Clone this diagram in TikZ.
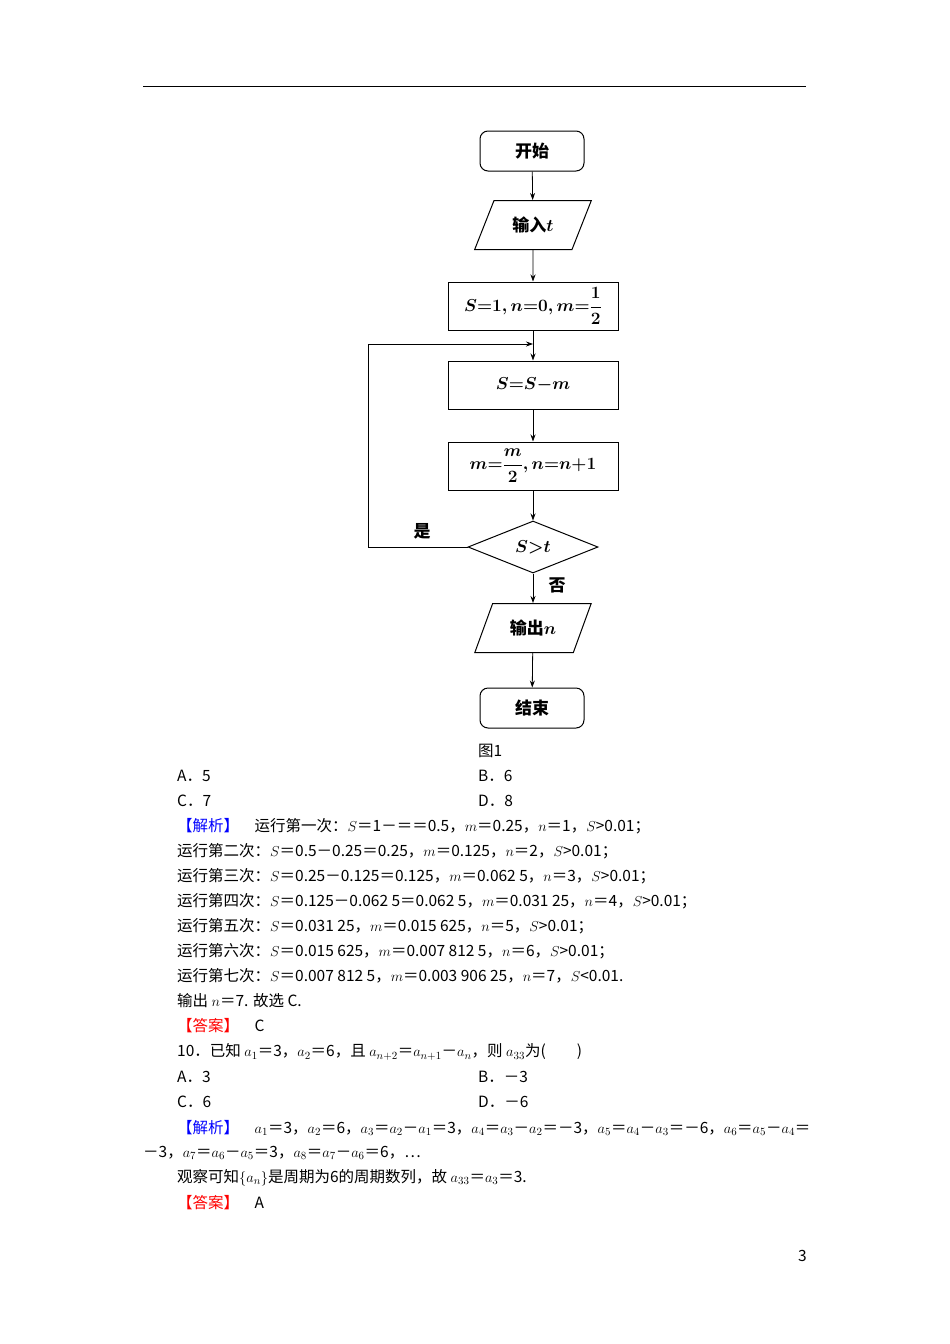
\documentclass[tikz,border=0pt]{standalone}
\usepackage{fontspec}
\usepackage{amsmath}
\newfontfamily\cjk{Noto Sans CJK SC}
\usetikzlibrary{shapes.geometric,arrows.meta}
\tikzset{
  box/.style={draw,line width=1pt,minimum width=170pt,minimum height=48pt,inner sep=2pt,font=\fontsize{17}{17}\selectfont\bfseries},
  term/.style={draw,line width=1pt,rounded corners=8pt,minimum width=104pt,minimum height=40pt,font=\fontsize{17}{17}\selectfont\cjk\bfseries},
  io/.style={draw,line width=1pt,trapezium,trapezium stretches=true,trapezium left angle=66,trapezium right angle=114,minimum width=117pt,minimum height=49pt,inner xsep=0pt,font=\fontsize{17}{17}\selectfont\cjk\bfseries},
  dec/.style={draw,line width=1pt,diamond,aspect=2.5,minimum width=130pt,minimum height=52pt,inner sep=0pt,font=\fontsize{17}{17}\selectfont\bfseries},
  arr/.style={-{Stealth[length=7pt,width=5pt]},line width=0.8pt},
  txt/.style={anchor=west,inner sep=0pt,font=\fontsize{15.5}{15.5}\selectfont\cjk},
  lab/.style={font=\fontsize{17}{17}\selectfont\cjk\bfseries}
}
\begin{document}
\begin{tikzpicture}[x=1pt,y=-1pt]
\useasboundingbox (0,0) rectangle (950,1344);
\draw[line width=1pt] (143,86) -- (806,86);
\node[term] (st) at (532,151) {开始};
\node[io] (in) at (533,225) {输入$\boldsymbol{t}$};
\node[box] (init) at (533,306) {$\boldsymbol{S{=}1,n{=}0,m{=}\dfrac{1}{2}}$};
\node[box] (upd) at (533,385) {$\boldsymbol{S{=}S{-}m}$};
\node[box] (upm) at (533,466) {$\boldsymbol{m{=}\dfrac{m}{2},n{=}n{+}1}$};
\node[dec] (d) at (533,547) {$\boldsymbol{S{>}t}$};
\node[io] (out) at (533,628) {输出$\boldsymbol{n}$};
\node[term] (en) at (532,708) {结束};
\coordinate (j) at (533,344);
\draw[arr] (st) -- (in);
\draw[arr] (in) -- (init);
\draw[arr] (init) -- (upd);
\draw[arr] (upd) -- (upm);
\draw[arr] (upm) -- (d);
\draw[arr] (d) -- (out);
\draw[arr] (out) -- (en);
\draw[arr] (d.west) -- (368,547) -- (368,344) -- (j);
\node[lab] (yes) at (422,531) {是};
\node[lab] (no) at (557,585) {否};
\node[txt] (cap) at (478,751) {图1};
\node[txt] (a1) at (177,776) {A．5};
\node[txt] (b1) at (478,776) {B．6};
\node[txt] (c1) at (177,801) {C．7};
\node[txt] (d1) at (478,801) {D．8};
\node[txt] (l1) at (177,826) {\textcolor{blue}{【解析】}\quad 运行第一次：$S$＝1－＝＝0.5，$m$＝0.25，$n$＝1，$S$>0.01；};
\node[txt] (l2) at (177,851) {运行第二次：$S$＝0.5－0.25＝0.25，$m$＝0.125，$n$＝2，$S$>0.01；};
\node[txt] (l3) at (177,876) {运行第三次：$S$＝0.25－0.125＝0.125，$m$＝0.062 5，$n$＝3，$S$>0.01；};
\node[txt] (l4) at (177,901) {运行第四次：$S$＝0.125－0.062 5＝0.062 5，$m$＝0.031 25，$n$＝4，$S$>0.01；};
\node[txt] (l5) at (177,926) {运行第五次：$S$＝0.031 25，$m$＝0.015 625，$n$＝5，$S$>0.01；};
\node[txt] (l6) at (177,951) {运行第六次：$S$＝0.015 625，$m$＝0.007 812 5，$n$＝6，$S$>0.01；};
\node[txt] (l7) at (177,976) {运行第七次：$S$＝0.007 812 5，$m$＝0.003 906 25，$n$＝7，$S$<0.01.};
\node[txt] (l8) at (177,1001) {输出 $n$＝7. 故选 C.};
\node[txt] (l9) at (177,1026) {\textcolor{red}{【答案】}\quad C};
\node[txt] (q) at (177,1052) {10．已知 $a_1$＝3，$a_2$＝6，且 $a_{n+2}$＝$a_{n+1}$－$a_n$，则 $a_{33}$为(\qquad )};
\node[txt] (qa) at (177,1077) {A．3};
\node[txt] (qb) at (478,1077) {B．－3};
\node[txt] (qc) at (177,1102) {C．6};
\node[txt] (qd) at (478,1102) {D．－6};
\node[txt] (s1) at (177,1128) {\textcolor{blue}{【解析】}\quad $a_1$＝3，$a_2$＝6，$a_3$＝$a_2$－$a_1$＝3，$a_4$＝$a_3$－$a_2$＝－3，$a_5$＝$a_4$－$a_3$＝－6，$a_6$＝$a_5$－$a_4$＝};
\node[txt] (s2) at (143,1153) {－3，$a_7$＝$a_6$－$a_5$＝3，$a_8$＝$a_7$－$a_6$＝6，…};
\node[txt] (s3) at (177,1178) {观察可知$\{a_n\}$是周期为6的周期数列，故 $a_{33}$＝$a_3$＝3.};
\node[txt] (s4) at (177,1203) {\textcolor{red}{【答案】}\quad A};
\node[txt] (pg) at (798,1256) {3};
\end{tikzpicture}
\end{document}
